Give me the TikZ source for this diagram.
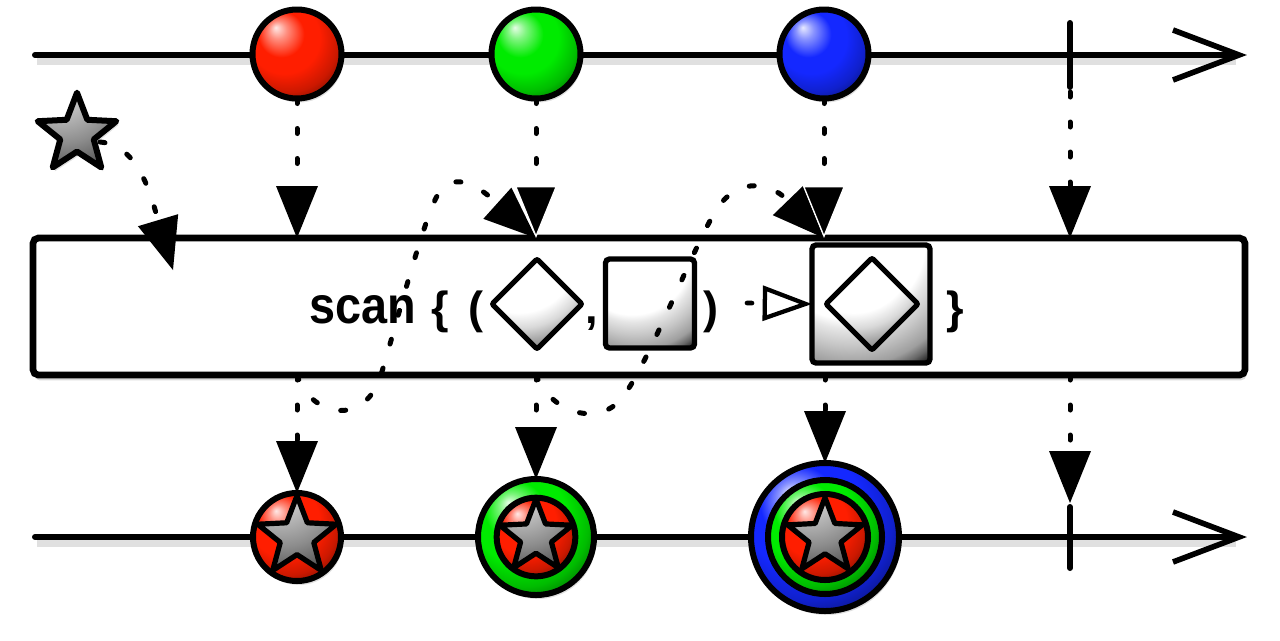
\documentclass[tikz,border=0pt]{standalone}
\usepackage{fontspec}
\setmainfont{Liberation Sans}
\usepackage{graphicx}
\usetikzlibrary{arrows.meta,shapes.geometric,shadows}
\pgfdeclareradialshading{sqshade}{\pgfpoint{-15bp}{40bp}}{color(0bp)=(white); color(33bp)=(white); color(36bp)=(black!10); color(41bp)=(black!22); color(47bp)=(black!38); color(50bp)=(black!60); color(54bp)=(black); color(100bp)=(black)}
\pgfdeclareradialshading{diashade}{\pgfpoint{-15bp}{40bp}}{color(0bp)=(white); color(32bp)=(white); color(38bp)=(black!15); color(43bp)=(black!35); color(48bp)=(black!50); color(100bp)=(black!60)}
\pgfdeclareradialshading{starshade}{\pgfpoint{-15bp}{40bp}}{color(0bp)=(black!12); color(20bp)=(black!25); color(35bp)=(black!45); color(47bp)=(black!65); color(55bp)=(black!75); color(100bp)=(black!80)}
\pgfdeclareradialshading[mcol]{marbleshade}{\pgfpoint{-12bp}{15bp}}{color(0bp)=(mcol!10!white); color(5bp)=(mcol!50!white); color(13bp)=(mcol); color(20bp)=(mcol); color(28bp)=(mcol!80!black); color(32bp)=(mcol!60!black); color(50bp)=(mcol!50!black)}
\colorlet{mcol}{red}
\definecolor{mred}{RGB}{255,30,0}
\definecolor{mgreen}{RGB}{0,235,0}
\definecolor{mblue}{RGB}{20,40,255}
\begin{document}
\begin{tikzpicture}[x=0.75pt,y=-0.75pt,
  axis/.style={line width=4.5pt, line cap=round},
  shade line/.style={line width=6pt, black, opacity=0.12},
  chevron/.style={line width=4.2pt, line join=miter},
  marble/.style={circle, draw, line width=4.5pt, inner sep=0pt, outer sep=0pt, minimum size=#1},
  mfill/.style={/utils/exec={\colorlet{mcol}{#1}}, shade, shading=marbleshade},
  softshadow/.style={drop shadow={opacity=0.25, shadow xshift=1.5pt, shadow yshift=-3pt}},
  starmark/.style={star, star points=5, star point ratio=2.35, draw, line width=3.9pt, line join=round,
     inner sep=0pt, outer sep=0pt, minimum size=#1, shade, shading=starshade},
  opbox/.style={rectangle, draw, fill=white, line width=5pt, rounded corners=4pt, inner sep=0pt, outer sep=0pt},
  sqbox/.style={rectangle, draw, line width=4pt, rounded corners=3pt, inner sep=0pt, outer sep=0pt,
     minimum size=#1, shade, shading=sqshade},
  diabox/.style={diamond, draw, line width=3.9pt, rounded corners=1.5pt, inner sep=0pt, outer sep=0pt,
     minimum width=#1, minimum height=#1, shade, shading=diashade},
  optext/.style={font=\fontsize{39pt}{39pt}\selectfont\bfseries, inner sep=0pt, anchor=base west},
  symtext/.style={font=\fontsize{33.75pt}{33.75pt}\selectfont\bfseries, inner sep=0pt, anchor=base},
  flow/.style={line width=3.75pt, line cap=round, dash pattern=on 3.75pt off 18.75pt,
     -{Triangle[length=39pt, width=31.5pt, line width=0pt]}},
  floww/.style={line width=3.75pt, line cap=round, dash pattern=on 3.75pt off 18.75pt,
     -{Triangle[length=39pt, width=31.5pt, line width=1pt, color=white, fill=black]}},
  openflow/.style={line width=3.5pt, line cap=round, dash pattern=on 3.75pt off 18.75pt,
     -{Triangle[open, length=37pt, width=26pt, line width=3.2pt, fill=white]}}
]
\useasboundingbox (0,0) rectangle (1280,640);

% ---- time lines ----
\coordinate (a0) at (35,55);
\coordinate (a1) at (1236,55);
\coordinate (b0) at (35,537);
\coordinate (b1) at (1236,537);
\draw[shade line] (37,61) -- (1236,61);
\draw[shade line] (37,543) -- (1236,543);
\draw[axis] (a0) -- (a1);
\draw[axis] (b0) -- (b1);
\draw[chevron] (1173,30) -- (1239,55) -- (1173,80);
\draw[chevron] (1173,512) -- (1239,537) -- (1173,562);
\coordinate (tk1) at (1070,92);
\coordinate (tk2) at (1070,503);
\draw[axis] (1070,23) -- (1070,87);
\draw[axis] (1070,507) -- (1070,568);

% ---- source marbles ----
\node[marble=66.75pt, mfill=mred, softshadow] (r1) at (297,54) {};
\node[marble=66.75pt, mfill=mgreen, softshadow] (g1) at (536,54) {};
\node[marble=66.75pt, mfill=mblue, softshadow] (b1) at (824,54) {};

% ---- seed star ----
\node[starmark=62pt, line width=4.5pt, softshadow] (seed) at (77,134) {};

% ---- operator box ----
\node[opbox, minimum width=909pt, minimum height=102.75pt,
      drop shadow={opacity=0.3, shadow xshift=1pt, shadow yshift=-4pt}] (op) at (639,306.5) {};

\node[optext] (scan) at (309,323) {\scalebox{0.9}[1]{scan}};
\node[symtext] (lb) at (440,323) {\{};
\node[symtext] (lp) at (476,323) {(};
\node[diabox=67.5pt] (d1) at (537,304) {};
\node[symtext] (cm) at (592,323) {,};
\node[sqbox=66.75pt] (sq1) at (650,303.5) {};
\node[symtext] (rp) at (711,323) {)};
\node[sqbox=88.5pt] (sq2) at (871,304) {};
\node[diabox=69pt] (d2) at (872,304) {};
\node[symtext] (rb) at (955,323) {\}};
\coordinate (m0) at (747,303);
\draw[openflow] (m0) -- (sq2.west);

% ---- result marbles ----
\node[marble=66pt, mfill=mred, softshadow] (r2) at (297,537) {};
\node[starmark=62pt] (s2) at (r2) {};

\node[marble=87pt, mfill=mgreen, softshadow] (g2) at (536,537) {};
\node[marble=59pt, mfill=mred] (g2i) at (g2) {};
\node[starmark=57pt] (s3) at (g2) {};

\node[marble=111pt, mfill=mblue, softshadow] (b2) at (825,537) {};
\node[marble=85.5pt, mfill=mgreen] (b2g) at (b2) {};
\node[marble=64.5pt, mfill=mred] (b2r) at (b2) {};
\node[starmark=59pt] (s4) at (b2) {};

% ---- flows into the operator ----
\draw[flow] (r1.south) -- (r1.south |- op.north);
\draw[flow] (tk1) -- (tk1 |- op.north);

\draw[flow] (r1 |- op.south) .. controls (310,415) and (362,428) .. (380,378)
   .. controls (392,340) and (420,232) .. (435,200)
   .. controls (450,168) and (476,184) .. (g1 |- op.north);
\draw[flow] (g1 |- op.south) .. controls (550,412) and (598,428) .. (622,398)
   .. controls (648,365) and (692,250) .. (715,212)
   .. controls (735,178) and (768,180) .. (b1 |- op.north);

\draw[floww] (g1.south) -- (g1.south |- op.north);
\draw[floww] (b1.south) -- (b1.south |- op.north);

\coordinate (s0) at (100,142);
\coordinate (s1) at (173,270);
\draw[flow] (s0) .. controls (140,145) and (152,200) .. (s1);

% ---- flows out of the operator ----
\draw[flow] (r1 |- op.south) -- (r2.north);
\draw[flow] (g1 |- op.south) -- (g2.north);
\draw[flow] (b2 |- op.south) -- (b2.north);
\draw[flow] (tk1 |- op.south) -- (tk2);
\end{tikzpicture}
\end{document}
